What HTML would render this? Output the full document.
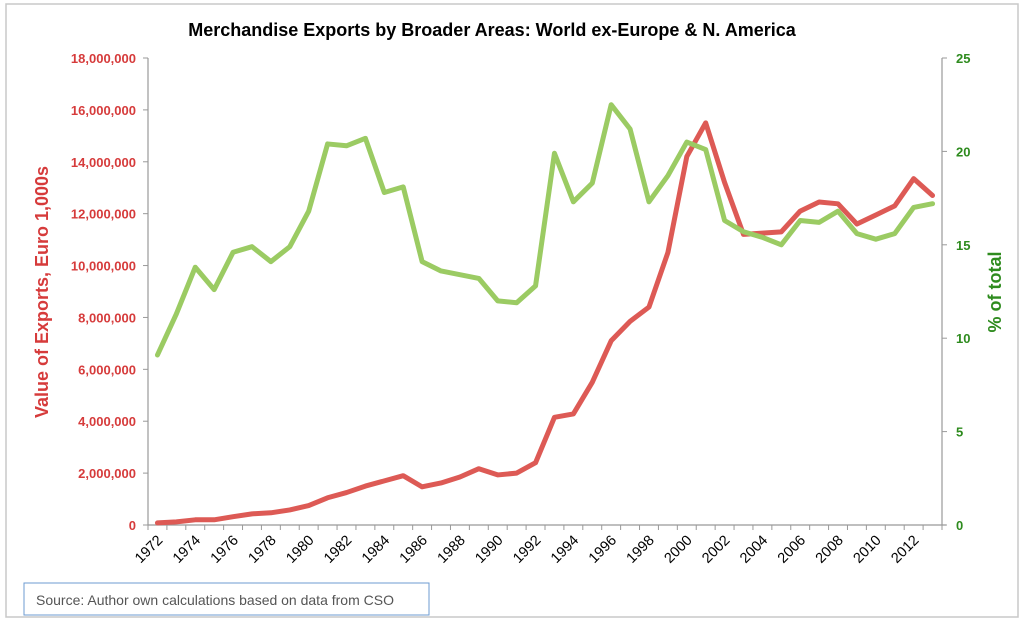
<!DOCTYPE html>
<html><head><meta charset="utf-8"><style>
body{margin:0;background:#fff;width:1024px;height:623px;overflow:hidden;font-family:"Liberation Sans",sans-serif}
</style></head><body>
<svg width="1024" height="623" xmlns="http://www.w3.org/2000/svg">
<rect x="6" y="4" width="1012" height="613" fill="#fff" stroke="#c8c8c8" stroke-width="1.5"/>
<text x="492" y="36" text-anchor="middle" font-size="18" font-weight="bold" fill="#000">Merchandise Exports by Broader Areas: World ex-Europe &amp; N. America</text>
<g id="axes"></g>
<g id="series"></g>
<text transform="translate(48,292) rotate(-90)" text-anchor="middle" font-size="18" font-weight="bold" fill="#d63b3b">Value of Exports, Euro 1,000s</text>
<text transform="translate(1001,292) rotate(-90)" text-anchor="middle" font-size="18" font-weight="bold" fill="#2e8b1e">% of total</text>
<rect x="24" y="583" width="405" height="32" fill="#fff" stroke="#6c9bd2" stroke-width="1"/>
<text x="36" y="605" font-size="14" fill="#555">Source: Author own calculations based on data from CSO</text>
</svg>
<script>
const years=[];for(let y=1972;y<=2013;y++)years.push(y);
const exportsM=[0.08,0.12,0.2,0.2,0.32,0.43,0.47,0.58,0.75,1.05,1.25,1.5,1.7,1.9,1.47,1.62,1.85,2.17,1.93,2.0,2.4,4.15,4.28,5.5,7.1,7.85,8.4,10.5,14.2,15.5,13.2,11.2,11.25,11.3,12.1,12.45,12.38,11.6,11.95,12.3,13.35,12.7];
const pctTotal=[9.1,11.3,13.8,12.6,14.6,14.9,14.1,14.9,16.8,20.4,20.3,20.7,17.8,18.1,14.1,13.6,13.4,13.2,12.0,11.9,12.8,19.9,17.3,18.3,22.5,21.2,17.3,18.7,20.5,20.1,16.3,15.7,15.4,15.0,16.3,16.2,16.8,15.6,15.3,15.6,17.0,17.2];
const leftTicks=[0,2,4,6,8,10,12,14,16,18];
const leftTickLabels=["0","2,000,000","4,000,000","6,000,000","8,000,000","10,000,000","12,000,000","14,000,000","16,000,000","18,000,000"];
const rightTicks=[0,5,10,15,20,25];
const NS="http://www.w3.org/2000/svg";
const X0=148,X1=942,Y0=525,Y1=58;
const step=(X1-X0)/years.length;
const xs=i=>X0+step*(i+0.5);
const yL=v=>Y0-(v/18)*(Y0-Y1);
const yR=v=>Y0-(v/25)*(Y0-Y1);
const axes=document.getElementById('axes'),ser=document.getElementById('series');
function mk(t,a,p){const e=document.createElementNS(NS,t);for(const k in a)e.setAttribute(k,a[k]);p.appendChild(e);return e;}
let e;
e=mk('line',{x1:X0,y1:Y1,x2:X0,y2:Y0,stroke:'#999','stroke-width':1.2},axes);


e=mk('line',{x1:X1,y1:Y1,x2:X1,y2:Y0,stroke:'#999','stroke-width':1.2},axes);


e=mk('line',{x1:X0,y1:Y0,x2:X1+4,y2:Y0,stroke:'#999','stroke-width':1.2},axes);


leftTicks.forEach((v,i)=>{const y=yL(v);
mk('line',{x1:X0-5,y1:y,x2:X0,y2:y,stroke:'#999'},axes);
e=mk('text',{x:X0-12,y:y+5,'text-anchor':'end','font-size':13,'font-weight':'bold',fill:'#d63b3b'},axes);
e.textContent=leftTickLabels[i];

});
rightTicks.forEach(v=>{const y=yR(v);
mk('line',{x1:X1,y1:y,x2:X1+5,y2:y,stroke:'#999'},axes);
e=mk('text',{x:X1+14,y:y+5,'font-size':13,'font-weight':'bold',fill:'#2e8b1e'},axes);
e.textContent=String(v);

});
for(let i=0;i<=years.length;i++){const x=X0+step*i;mk('line',{x1:x,y1:Y0,x2:x,y2:Y0+5,stroke:'#999'},axes);}
years.forEach((yr,i)=>{if(i%2)return;const x=xs(i)+6,y=Y0+16;
e=mk('text',{x:x,y:y,'text-anchor':'end','font-size':14.5,fill:'#000',transform:`rotate(-45 ${x} ${y})`},axes);
e.textContent=yr;

});
e=mk('polyline',{points:exportsM.map((v,i)=>xs(i)+','+yL(v)).join(' '),fill:'none',stroke:'#dd5a55','stroke-width':5,'stroke-linejoin':'round','stroke-linecap':'round'},ser);


e=mk('polyline',{points:pctTotal.map((v,i)=>xs(i)+','+yR(v)).join(' '),fill:'none',stroke:'#9bcb63','stroke-width':5,'stroke-linejoin':'round','stroke-linecap':'round'},ser);


</script>
</body></html>
